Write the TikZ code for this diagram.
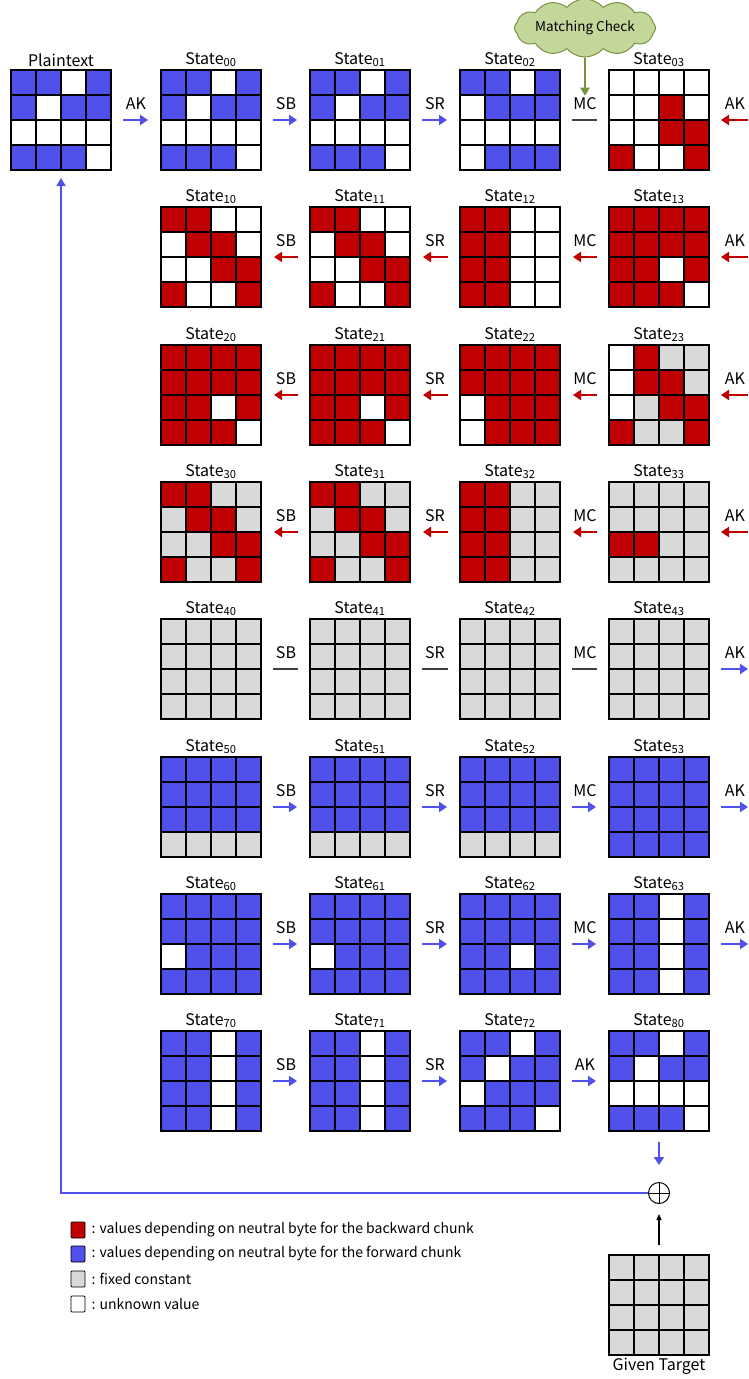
\documentclass[tikz,border=0pt]{standalone}
\usepackage{fontspec}
\setmainfont{Noto Sans CJK KR}
\usetikzlibrary{arrows.meta,shapes.symbols,calc}
\definecolor{colB}{RGB}{80,80,235}
\definecolor{colR}{RGB}{192,0,0}
\definecolor{colG}{RGB}{217,217,217}
\definecolor{colW}{RGB}{255,255,255}
\definecolor{cloudF}{RGB}{196,215,155}
\definecolor{cloudD}{RGB}{118,146,60}
\definecolor{mcline}{RGB}{64,64,64}
\tikzset{
  gridnode/.style={minimum width=100pt,minimum height=100pt,inner sep=0pt,outer sep=0pt,anchor=north west},
  cellline/.style={line width=1.2pt,black},
  statelabel/.style={anchor=south,inner sep=1pt,font=\fontsize{16}{16}\selectfont},
  oplabel/.style={inner sep=1pt,font=\fontsize{16}{16}\selectfont},
  fwd/.style={colB,line width=2.8pt,-{Triangle[length=8pt,width=10pt]},shorten <=12pt,shorten >=13pt},
  bwd/.style={colR,line width=2.8pt,-{Triangle[length=8pt,width=10pt]},shorten <=12pt,shorten >=13pt},
  plainline/.style={mcline,line width=1.6pt,shorten <=12pt,shorten >=12pt},
  legbox/.style={draw=black,line width=0.8pt,minimum width=14pt,minimum height=16pt,inner sep=0pt,rounded corners=1pt},
  legtext/.style={anchor=west,inner sep=0pt,font=\fontsize{14}{14}\selectfont},
}
\newcommand\stgrid[4]{% name, NW corner, colours, label
  \node[gridnode] (#1) at (#2) {};
  \foreach \c [count=\i from 0] in {#3}{
    \pgfmathtruncatemacro\rr{\i/4}
    \pgfmathtruncatemacro\cc{mod(\i,4)}
    \fill[col\c] ([shift={(\cc*25,\rr*25)}]#1.north west) rectangle ++(25,25);
  }
  \foreach \k in {1,2,3}{
    \draw[cellline] ([shift={(\k*25,0)}]#1.north west) -- ([shift={(\k*25,100)}]#1.north west);
    \draw[cellline] ([shift={(0,\k*25)}]#1.north west) -- ([shift={(100,\k*25)}]#1.north west);
  }
  \draw[cellline] (#1.north west) rectangle (#1.south east);
  \node[statelabel] (#1lab) at ([yshift=2pt]#1.north) {#4};
}
\begin{document}
\begin{tikzpicture}[x=1pt,y=-1pt]
\useasboundingbox (0,0) rectangle (748,1379);
\fill[white] (0,0) rectangle (748,1379);

% ---------- row 0
\stgrid{gpt}{11,70}{B,B,W,B,B,W,B,B,W,W,W,W,B,B,B,W}{Plaintext}
\stgrid{g00}{161,70}{B,B,W,B,B,W,B,B,W,W,W,W,B,B,B,W}{State\textsubscript{00}}
\stgrid{g01}{310,70}{B,B,W,B,B,W,B,B,W,W,W,W,B,B,B,W}{State\textsubscript{01}}
\stgrid{g02}{460,70}{B,B,W,B,W,B,B,B,W,W,W,W,W,B,B,B}{State\textsubscript{02}}
\stgrid{g03}{609,70}{W,W,W,W,W,W,R,W,W,W,R,R,R,W,W,R}{State\textsubscript{03}}
% ---------- row 1
\stgrid{g10}{161,207}{R,R,W,W,W,R,R,W,W,W,R,R,R,W,W,R}{State\textsubscript{10}}
\stgrid{g11}{310,207}{R,R,W,W,W,R,R,W,W,W,R,R,R,W,W,R}{State\textsubscript{11}}
\stgrid{g12}{460,207}{R,R,W,W,R,R,W,W,R,R,W,W,R,R,W,W}{State\textsubscript{12}}
\stgrid{g13}{609,207}{R,R,R,R,R,R,R,R,R,R,W,R,R,R,R,W}{State\textsubscript{13}}
% ---------- row 2
\stgrid{g20}{161,345}{R,R,R,R,R,R,R,R,R,R,W,R,R,R,R,W}{State\textsubscript{20}}
\stgrid{g21}{310,345}{R,R,R,R,R,R,R,R,R,R,W,R,R,R,R,W}{State\textsubscript{21}}
\stgrid{g22}{460,345}{R,R,R,R,R,R,R,R,W,R,R,R,W,R,R,R}{State\textsubscript{22}}
\stgrid{g23}{609,345}{W,R,G,G,W,R,R,G,W,G,R,R,R,G,G,R}{State\textsubscript{23}}
% ---------- row 3
\stgrid{g30}{161,482}{R,R,G,G,G,R,R,G,G,G,R,R,R,G,G,R}{State\textsubscript{30}}
\stgrid{g31}{310,482}{R,R,G,G,G,R,R,G,G,G,R,R,R,G,G,R}{State\textsubscript{31}}
\stgrid{g32}{460,482}{R,R,G,G,R,R,G,G,R,R,G,G,R,R,G,G}{State\textsubscript{32}}
\stgrid{g33}{609,482}{G,G,G,G,G,G,G,G,R,R,G,G,G,G,G,G}{State\textsubscript{33}}
% ---------- row 4
\stgrid{g40}{161,619}{G,G,G,G,G,G,G,G,G,G,G,G,G,G,G,G}{State\textsubscript{40}}
\stgrid{g41}{310,619}{G,G,G,G,G,G,G,G,G,G,G,G,G,G,G,G}{State\textsubscript{41}}
\stgrid{g42}{460,619}{G,G,G,G,G,G,G,G,G,G,G,G,G,G,G,G}{State\textsubscript{42}}
\stgrid{g43}{609,619}{G,G,G,G,G,G,G,G,G,G,G,G,G,G,G,G}{State\textsubscript{43}}
% ---------- row 5
\stgrid{g50}{161,757}{B,B,B,B,B,B,B,B,B,B,B,B,G,G,G,G}{State\textsubscript{50}}
\stgrid{g51}{310,757}{B,B,B,B,B,B,B,B,B,B,B,B,G,G,G,G}{State\textsubscript{51}}
\stgrid{g52}{460,757}{B,B,B,B,B,B,B,B,B,B,B,B,G,G,G,G}{State\textsubscript{52}}
\stgrid{g53}{609,757}{B,B,B,B,B,B,B,B,B,B,B,B,B,B,B,B}{State\textsubscript{53}}
% ---------- row 6
\stgrid{g60}{161,894}{B,B,B,B,B,B,B,B,W,B,B,B,B,B,B,B}{State\textsubscript{60}}
\stgrid{g61}{310,894}{B,B,B,B,B,B,B,B,W,B,B,B,B,B,B,B}{State\textsubscript{61}}
\stgrid{g62}{460,894}{B,B,B,B,B,B,B,B,B,B,W,B,B,B,B,B}{State\textsubscript{62}}
\stgrid{g63}{609,894}{B,B,W,B,B,B,W,B,B,B,W,B,B,B,W,B}{State\textsubscript{63}}
% ---------- row 7
\stgrid{g70}{161,1031}{B,B,W,B,B,B,W,B,B,B,W,B,B,B,W,B}{State\textsubscript{70}}
\stgrid{g71}{310,1031}{B,B,W,B,B,B,W,B,B,B,W,B,B,B,W,B}{State\textsubscript{71}}
\stgrid{g72}{460,1031}{B,B,W,B,B,W,B,B,W,B,B,B,B,B,B,W}{State\textsubscript{72}}
\stgrid{g73}{609,1031}{B,B,W,B,B,W,B,B,W,W,W,W,B,B,B,W}{State\textsubscript{80}}

% ---------- operations row 0
\node[oplabel] (o0a) at (136,104) {AK};
\node[oplabel] (o0b) at (286,104) {SB};
\node[oplabel] (o0c) at (435,104) {SR};
\node[oplabel] (o0d) at (585,104) {MC};
\node[oplabel] (o0e) at (735,104) {AK};
\coordinate (e0) at (748,120);
\draw[fwd] (gpt.east) -- (g00.west);
\draw[fwd] (g00.east) -- (g01.west);
\draw[fwd] (g01.east) -- (g02.west);
\draw[plainline] (g02.east) -- (g03.west);
\draw[bwd,shorten <=0pt,shorten >=12pt] (e0) -- (g03.east);

% ---------- rows 1-3 (backward)
\foreach \r/\T in {1/207,2/345,3/482}{
  \node[oplabel] (o\r b) at (286,\T+34) {SB};
  \node[oplabel] (o\r c) at (435,\T+34) {SR};
  \node[oplabel] (o\r d) at (585,\T+34) {MC};
  \node[oplabel] (o\r e) at (735,\T+34) {AK};
  \coordinate (e\r) at (748,\T+50);
  \draw[bwd] (g\r1.west) -- (g\r0.east);
  \draw[bwd] (g\r2.west) -- (g\r1.east);
  \draw[bwd] (g\r3.west) -- (g\r2.east);
  \draw[bwd,shorten <=0pt,shorten >=12pt] (e\r) -- (g\r3.east);
}
% ---------- row 4
\node[oplabel] (o4b) at (286,653) {SB};
\node[oplabel] (o4c) at (435,653) {SR};
\node[oplabel] (o4d) at (585,653) {MC};
\node[oplabel] (o4e) at (735,653) {AK};
\coordinate (e4) at (748,669);
\draw[plainline] (g40.east) -- (g41.west);
\draw[plainline] (g41.east) -- (g42.west);
\draw[plainline] (g42.east) -- (g43.west);
\draw[fwd,shorten >=0pt] (g43.east) -- (e4);
% ---------- rows 5-6 (forward)
\foreach \r/\T in {5/757,6/894}{
  \node[oplabel] (o\r b) at (286,\T+34) {SB};
  \node[oplabel] (o\r c) at (435,\T+34) {SR};
  \node[oplabel] (o\r d) at (585,\T+34) {MC};
  \node[oplabel] (o\r e) at (735,\T+34) {AK};
  \coordinate (e\r) at (748,\T+50);
  \draw[fwd] (g\r0.east) -- (g\r1.west);
  \draw[fwd] (g\r1.east) -- (g\r2.west);
  \draw[fwd] (g\r2.east) -- (g\r3.west);
  \draw[fwd,shorten >=0pt] (g\r3.east) -- (e\r);
}
% ---------- row 7
\node[oplabel] (o7b) at (286,1065) {SB};
\node[oplabel] (o7c) at (435,1065) {SR};
\node[oplabel] (o7d) at (585,1065) {AK};
\draw[fwd] (g70.east) -- (g71.west);
\draw[fwd] (g71.east) -- (g72.west);
\draw[fwd] (g72.east) -- (g73.west);

% ---------- matching check
\node[cloud,cloud puffs=12,cloud puff arc=100,aspect=3.3,draw=cloudD,fill=cloudF,line width=1pt,
      minimum width=128pt,minimum height=40pt,inner sep=0pt,
      font=\fontsize{13.5}{13.5}\selectfont] (mc) at (585,28) {Matching Check};
\draw[cloudD,line width=2pt,-{Triangle[length=8pt,width=9pt]},shorten >=1pt] (mc.south) -- (o0d.north);

% ---------- xor and feedback
\node[circle,draw=black,line width=1pt,minimum size=21pt,inner sep=0pt] (xor) at (659,1193) {};
\draw[line width=1pt] (xor.north) -- (xor.south);
\draw[line width=1pt] (xor.west) -- (xor.east);
\draw[colB,line width=2.8pt,-{Triangle[length=8pt,width=10pt]},shorten <=11pt,shorten >=17pt] (g73.south) -- (xor.north);
\draw[colB,line width=2pt,-{Triangle[length=8pt,width=9pt]},shorten >=8pt] (xor.west) -| (gpt.south);

% ---------- target
\stgrid{tgt}{609,1255}{G,G,G,G,G,G,G,G,G,G,G,G,G,G,G,G}{}
\node[anchor=north,inner sep=1pt,font=\fontsize{16}{16}\selectfont] (tgtlab) at ([yshift=-2pt]tgt.south) {Given Target};
\draw[black,line width=1.2pt,-{Triangle[length=6pt,width=5pt]},shorten <=10pt,shorten >=10pt] (tgt.north) -- (xor.south);

% ---------- legend
\node[legbox,fill=colR] (lr) at (78,1230) {};
\node[legbox,fill=colB] (lb) at (78,1254) {};
\node[legbox,fill=colG] (lg) at (78,1279) {};
\node[legbox,fill=colW] (lw) at (78,1304) {};
\node[legtext] (tr) at ([xshift=6pt]lr.east) {: values depending on neutral byte for the backward chunk};
\node[legtext] (tb) at ([xshift=6pt]lb.east) {: values depending on neutral byte for the forward chunk};
\node[legtext] (tg) at ([xshift=6pt]lg.east) {: fixed constant};
\node[legtext] (tw) at ([xshift=6pt]lw.east) {: unknown value};
\end{tikzpicture}
\end{document}
